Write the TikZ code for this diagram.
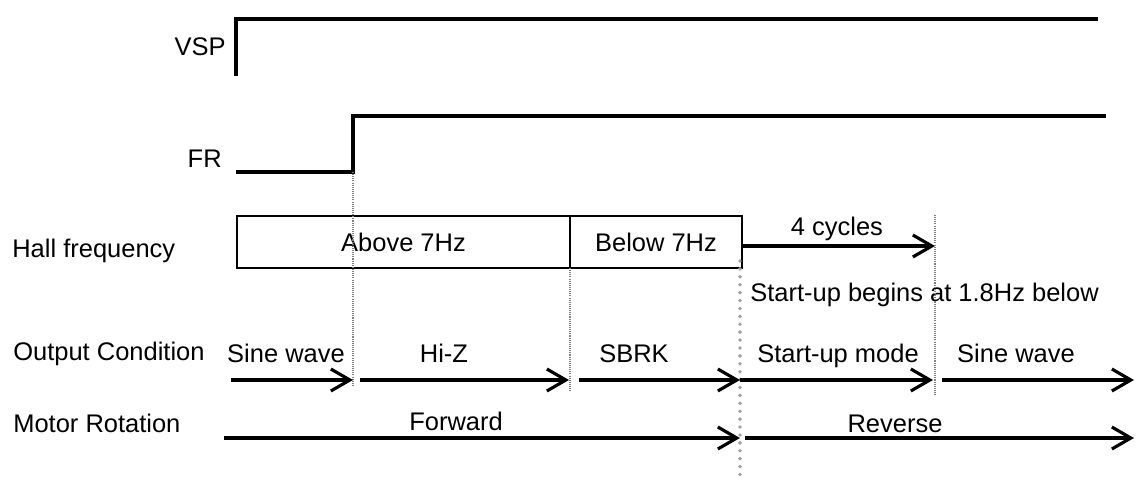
\documentclass[tikz,border=0pt]{standalone}
\usepackage{fontspec}
\setmainfont{Liberation Sans}
\usetikzlibrary{arrows.meta}

\begin{document}
\begin{tikzpicture}[x=0.02cm, y=-0.02cm,
  sig/.style={line width=2pt, line join=miter},
  stage/.style={line width=1.8pt, -{Straight Barb[length=0.38cm, width=0.44cm]}},
  lbl/.style={font=\fontsize{14.5}{17}\selectfont, inner sep=0pt},
  freqbox/.style={draw, line width=1.2pt, minimum height=1.04cm, inner sep=0pt,
    font=\fontsize{14.5}{17}\selectfont},
  guide/.style={gray, line width=0.6pt, dash pattern=on 0.6pt off 0.6pt},
  marker/.style={gray!75, line width=2.2pt, line cap=round, dash pattern=on 0pt off 4.5pt}]
  \useasboundingbox (0,0) rectangle (1137,484);

  % signal names (left)
  \node[lbl, anchor=base east] (vsp) at (226,55) {VSP};
  \node[lbl, anchor=base east] (fr) at (222,167) {FR};
  \node[lbl, anchor=base west] (hall) at (12,257) {Hall frequency};
  \node[lbl, anchor=base west] (outc) at (13,360) {Output Condition};
  \node[lbl, anchor=base west] (motor) at (13,432) {Motor Rotation};

  % VSP and FR waveforms
  \coordinate (v0) at (236,76);
  \coordinate (v1) at (236,19);
  \coordinate (v2) at (1098,19);
  \draw[sig] (v0) -- (v1) -- (v2);
  \coordinate (f0) at (236,172);
  \coordinate (f1) at (353,172);
  \coordinate (f2) at (353,116);
  \coordinate (f3) at (1106,116);
  \draw[sig] (f0) -- (f1) -- (f2) -- (f3);

  % Hall frequency
  \node[freqbox, minimum width=6.66cm] (above) at (403.5,242) {Above 7Hz};
  \node[freqbox, minimum width=3.44cm] (below) at (656,242) {Below 7Hz};
  \coordinate (cyc) at (935,246);
  \draw[stage] (below.east |- cyc) -- (cyc);
  \node[lbl, anchor=base] (cyclbl) at (837,235) {4 cycles};
  \node[lbl, anchor=base west] (begin) at (750,301) {Start-up begins at 1.8Hz below};

  % time guides
  \coordinate (g1) at (353,387);
  \coordinate (g2a) at (570,268);
  \coordinate (g2) at (570,392);
  \coordinate (g4a) at (935,215);
  \coordinate (g4) at (935,395);
  \draw[guide] (f1) -- (g1);
  \draw[guide] (g2a) -- (g2);
  \draw[guide] (g4a) -- (g4);
  \coordinate (rv0) at (740,261);
  \coordinate (rv1) at (740,481);
  \draw[marker] (rv0) -- (rv1);

  % Output Condition
  \coordinate (o0) at (231,380);
  \coordinate (o1) at (353,380);
  \coordinate (o2) at (360,380);
  \coordinate (o3) at (569,380);
  \coordinate (o4) at (579,380);
  \coordinate (o5) at (740,380);
  \coordinate (o6) at (933,380);
  \coordinate (o7) at (942,380);
  \coordinate (o8) at (1134,380);
  \draw[stage] (o0) -- (o1);
  \draw[stage] (o2) -- (o3);
  \draw[stage] (o4) -- (o5);
  \draw[stage] (o5) -- (o6);
  \draw[stage] (o7) -- (o8);
  \node[lbl, anchor=base] (sine1) at (286,362) {Sine wave};
  \node[lbl, anchor=base] (hiz) at (444,362) {Hi-Z};
  \node[lbl, anchor=base] (sbrk) at (634,362) {SBRK};
  \node[lbl, anchor=base] (sumode) at (838,362) {Start-up mode};
  \node[lbl, anchor=base] (sine2) at (1016,362) {Sine wave};

  % Motor Rotation
  \coordinate (m0) at (224,438);
  \coordinate (m1) at (740,438);
  \coordinate (m2) at (745,438);
  \coordinate (m3) at (1134,438);
  \draw[stage] (m0) -- (m1);
  \draw[stage] (m2) -- (m3);
  \node[lbl, anchor=base] (fwd) at (456,430) {Forward};
  \node[lbl, anchor=base] (rev) at (895,432) {Reverse};
\end{tikzpicture}
\end{document}
